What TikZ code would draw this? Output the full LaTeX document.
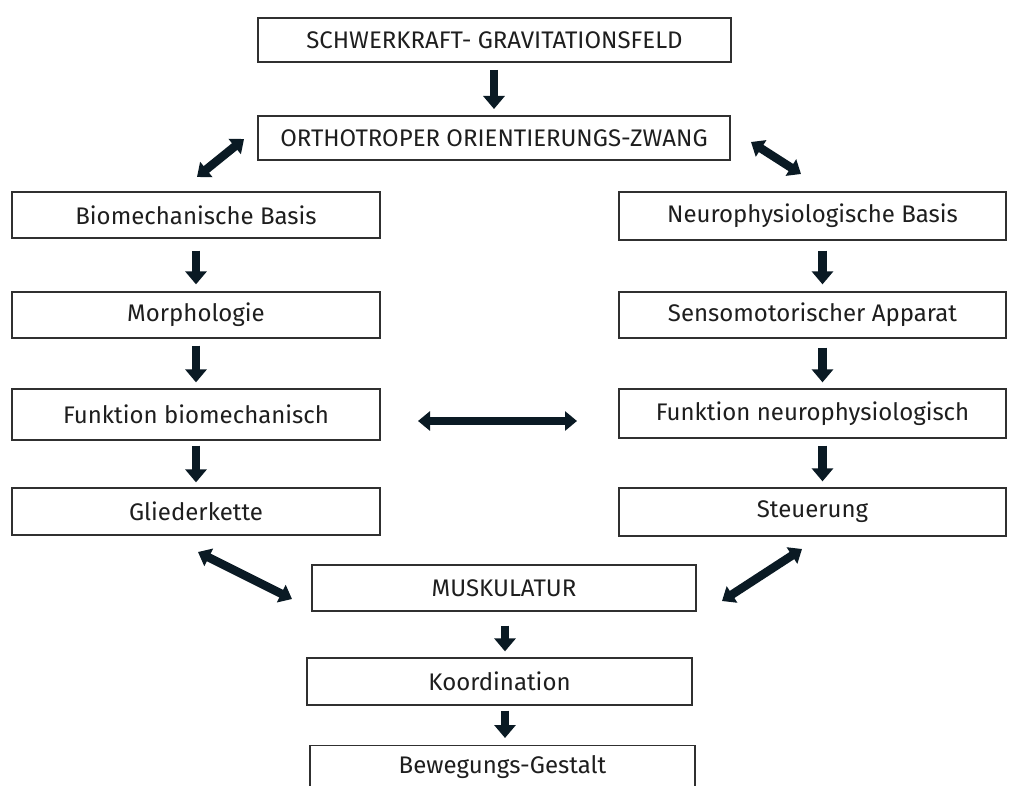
\documentclass[tikz,border=0pt]{standalone}
\usepackage{fontspec}
\setmainfont{Fira Sans}
\usetikzlibrary{arrows.meta}
\definecolor{txt}{HTML}{1E1E1E}
\definecolor{frame}{HTML}{303030}
\definecolor{arr}{HTML}{0A1A24}
\begin{document}
\begin{tikzpicture}[x=1pt,y=-1pt,
  box/.style={draw=frame,line width=1.3pt,rectangle,inner sep=0pt,text=txt,font=\fontsize{24}{26}\selectfont},
  blk/.style={draw=arr,line width=8.5pt,-{Triangle[width=21pt,length=13pt]}},
  dbl/.style={draw=arr,line width=8.5pt,{Triangle[width=19pt,length=12pt]}-{Triangle[width=19pt,length=12pt]}}]
\useasboundingbox[fill=white] (0,0) rectangle (1016,786);
\clip (0,0) rectangle (1016,786);
\node[box,minimum width=473pt,minimum height=44pt] (top) at (494.5,40) {SCHWERKRAFT- GRAVITATIONSFELD};
\node[box,minimum width=472pt,minimum height=44pt] (orth) at (494,138) {ORTHOTROPER ORIENTIERUNGS-ZWANG};
\node[box,minimum width=368pt,minimum height=46pt] (bio) at (196,215) {Biomechanische Basis};
\node[box,minimum width=387pt,minimum height=48pt] (neuro) at (812.5,216) {Neurophysiologische Basis};
\node[box,minimum width=368pt,minimum height=46pt] (morph) at (196,315) {Morphologie};
\node[box,minimum width=387pt,minimum height=46pt] (senso) at (812.5,315) {Sensomotorischer Apparat};
\node[box,minimum width=368pt,minimum height=51pt] (funkb) at (196,414.5) {Funktion biomechanisch};
\node[box,minimum width=387pt,minimum height=49pt] (funkn) at (812.5,413.5) {Funktion neurophysiologisch};
\node[box,minimum width=368pt,minimum height=47pt] (glied) at (196,511.5) {Gliederkette};
\node[box,minimum width=387pt,minimum height=48pt] (steu) at (812.5,512) {Steuerung};
\node[box,minimum width=384pt,minimum height=46pt] (musk) at (504,588) {MUSKULATUR};
\node[box,minimum width=385pt,minimum height=47pt] (koord) at (499.5,681.5) {Koordination};
\node[box,minimum width=385pt,minimum height=82pt,anchor=north] (beweg) at (502.5,745) {};
\node[text=txt,font=\fontsize{24}{26}\selectfont] (bewegt) at (502.5,767) {Bewegungs-Gestalt};
% coordinates for arrows
\coordinate (a1s) at (494,70); \coordinate (a1e) at (494,109);
\coordinate (l1a) at (197,177); \coordinate (l1b) at (244,139);
\coordinate (r1a) at (751,142); \coordinate (r1b) at (801,174);
\coordinate (hA) at (418,421); \coordinate (hB) at (577,421);
\coordinate (l2a) at (198,552); \coordinate (l2b) at (292,599);
\coordinate (r2a) at (722,601); \coordinate (r2b) at (802,549);
\draw[blk] (a1s) -- (a1e);
\draw[dbl] (l1a) -- (l1b);
\draw[dbl] (r1a) -- (r1b);
\draw[blk] ([yshift=-12pt]bio.south) -- ([yshift=7pt]morph.north);
\draw[blk] ([yshift=-7pt]morph.south) -- ([yshift=6pt]funkb.north);
\draw[blk] ([yshift=-5pt]funkb.south) -- ([yshift=5pt]glied.north);
\draw[blk] ([xshift=10pt,yshift=-10pt]neuro.south) -- ([xshift=10pt,yshift=7pt]senso.north);
\draw[blk] ([xshift=10pt,yshift=-9pt]senso.south) -- ([xshift=10pt,yshift=6pt]funkn.north);
\draw[blk] ([xshift=10pt,yshift=-7pt]funkn.south) -- ([xshift=10pt,yshift=6pt]steu.north);
\draw[dbl] (hA) -- (hB);
\draw[dbl] (l2a) -- (l2b);
\draw[dbl] (r2a) -- (r2b);
\draw[blk] ([xshift=1pt,yshift=-14pt]musk.south) -- ([xshift=5.5pt,yshift=6pt]koord.north);
\draw[blk] ([xshift=5.5pt,yshift=-5pt]koord.south) -- ([xshift=2.5pt,yshift=7pt]beweg.north);
\end{tikzpicture}
\end{document}
